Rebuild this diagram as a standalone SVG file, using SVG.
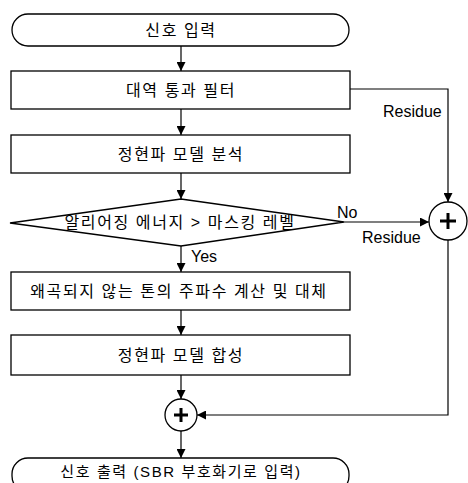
<svg xmlns="http://www.w3.org/2000/svg" width="468" height="483" viewBox="0 0 468 483">
<style>
.shape{fill:#fff;stroke:#000;stroke-width:1.3}
.ln{fill:none;stroke:#000;stroke-width:1.2}
.ko{font-family:"Liberation Sans","Noto Sans CJK KR",sans-serif;font-size:16px;letter-spacing:1.6px;text-anchor:middle;fill:#000}
.en{font-family:"Liberation Sans",Arial,sans-serif;font-size:16px;fill:#000}
.plus{stroke:#000;stroke-width:3;fill:none}
</style>
<defs>
<marker id="ah" viewBox="0 0 10 10" refX="10" refY="5" markerWidth="9" markerHeight="9" markerUnits="userSpaceOnUse" orient="auto">
<path d="M0,0 L10,5 L0,10 z" fill="#000"/>
</marker>
</defs>
<g id="connectors">
<line class="ln" x1="181" y1="46" x2="181" y2="71" marker-end="url(#ah)"/>
<line class="ln" x1="181" y1="109" x2="181" y2="135" marker-end="url(#ah)"/>
<line class="ln" x1="181" y1="173" x2="181" y2="199" marker-end="url(#ah)"/>
<line class="ln" x1="181" y1="246" x2="181" y2="272" marker-end="url(#ah)"/>
<line class="ln" x1="181" y1="310" x2="181" y2="335" marker-end="url(#ah)"/>
<line class="ln" x1="181" y1="375" x2="181" y2="399" marker-end="url(#ah)"/>
<line class="ln" x1="181" y1="431" x2="181" y2="458" marker-end="url(#ah)"/>
<polyline class="ln" points="350,89 448,89 448,202" marker-end="url(#ah)"/>
<line class="ln" x1="344" y1="222" x2="429" y2="222" marker-end="url(#ah)"/>
<polyline class="ln" points="448,240 448,415 197,415" marker-end="url(#ah)"/>
<text class="en" x="383" y="117">Residue</text>
<text class="en" x="337" y="218">No</text>
<text class="en" x="362" y="243">Residue</text>
<text class="en" x="191" y="262">Yes</text>
</g>
<g id="start">
<rect class="shape" x="12" y="14" width="337" height="32" rx="16"/>
<text class="ko" x="181" y="36">신호 입력</text>
</g>
<g id="bandpass">
<rect class="shape" x="11" y="71" width="339" height="38"/>
<text class="ko" x="181" y="96">대역 통과 필터</text>
</g>
<g id="analysis">
<rect class="shape" x="11" y="135" width="339" height="38"/>
<text class="ko" x="181" y="160">정현파 모델 분석</text>
</g>
<g id="decision">
<polygon class="shape" points="10,223 181,199 344,222 181,246"/>
<text class="ko" x="180" y="228">알리어징 에너지 &gt; 마스킹 레벨</text>
</g>
<g id="replace">
<rect class="shape" x="11" y="272" width="339" height="38"/>
<text class="ko" x="179" y="297">왜곡되지 않는 톤의 주파수 계산 및 대체</text>
</g>
<g id="synthesis">
<rect class="shape" x="11" y="335" width="339" height="40"/>
<text class="ko" x="181" y="361">정현파 모델 합성</text>
</g>
<g id="sum1">
<circle class="shape" cx="448" cy="221" r="19"/>
<path class="plus" d="M440,221 H456 M448,213 V229"/>
</g>
<g id="sum2">
<circle class="shape" cx="181" cy="415" r="16"/>
<path class="plus" d="M174,415 H188 M181,408 V422"/>
</g>
<g id="end">
<rect class="shape" x="12" y="458" width="337" height="34" rx="16"/>
<text class="ko" x="181" y="477" style="font-size:15px">신호 출력 (SBR 부호화기로 입력)</text>
</g>
</svg>
